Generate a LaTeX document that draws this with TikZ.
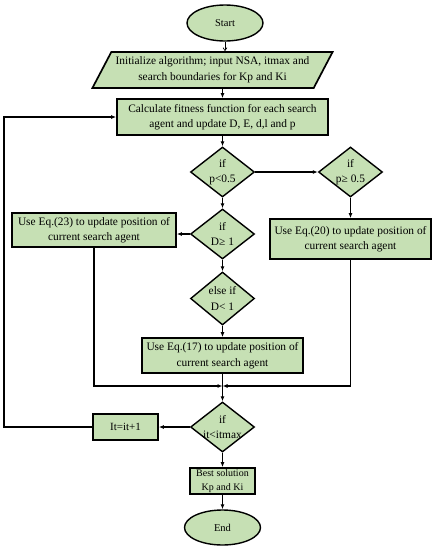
\documentclass[tikz,border=0pt]{standalone}
\usepackage{fontspec}
\setmainfont{Liberation Serif}
\usetikzlibrary{shapes.geometric,arrows.meta}
\definecolor{boxgreen}{RGB}{198,224,180}
\newcommand{\dtxt}[2]{\makebox[0pt]{#1}\\\makebox[0pt]{#2}}
\begin{document}
\begin{tikzpicture}[x=1pt,y=-1pt,
  font=\fontsize{11.4}{15.5}\selectfont,
  base/.style={draw=black, line width=1.7pt, fill=boxgreen, align=center, inner sep=0pt},
  procbox/.style={base, rectangle},
  term/.style={base, ellipse, line width=1.4pt},
  dec/.style={base, diamond, minimum width=64pt, minimum height=50pt, line width=1.4pt},
  io/.style={base, trapezium, trapezium left angle=55, trapezium right angle=125, trapezium stretches=true},
  arr/.style={-{Latex[length=5pt,width=4pt]}, line width=1.1pt},
  thinarr/.style={-{Straight Barb[length=3pt,width=4pt]}, line width=0.6pt}]
\useasboundingbox (0,0) rectangle (438,550);

\node[term, minimum width=76pt, minimum height=36pt, font=\fontsize{10.5}{13}\selectfont] (start) at (225,23) {Start};
\node[io, minimum width=241pt, minimum height=36pt] (init) at (212.5,70)
  {Initialize algorithm; input NSA, itmax and\\search boundaries for Kp and Ki};
\node[procbox, minimum width=211pt, minimum height=36pt] (calc) at (222.5,117)
  {Calculate fitness function for each search\\agent and update D, E, d,l and p};
\node[dec] (d1) at (222.5,172) {\dtxt{if}{p<0.5}};
\node[dec] (d2) at (350.5,172) {\dtxt{if}{p≥ 0.5}};
\node[procbox, minimum width=161pt, minimum height=40pt] (eq20) at (350.5,239)
  {Use Eq.(20) to update position of\\current search agent};
\node[dec] (d3) at (222.5,234) {\dtxt{if}{D≥ 1}};
\node[procbox, minimum width=164pt, minimum height=34pt] (eq23) at (94,230)
  {Use Eq.(23) to update position of\\current search agent};
\node[dec, minimum height=53pt] (d4) at (222.5,298.5) {\dtxt{else if}{D< 1}};
\node[procbox, minimum width=161pt, minimum height=35pt] (eq17) at (222.5,355.5)
  {Use Eq.(17) to update position of\\current search agent};
\coordinate (m) at (222.5,386);
\node[dec] (d5) at (222.5,427) {\dtxt{if}{it<itmax}};
\node[procbox, minimum width=65pt, minimum height=26pt, font=\fontsize{11}{14}\selectfont] (itb) at (125.5,427) {It=it+1};
\coordinate (lp) at (4,427);
\node[procbox, minimum width=65pt, minimum height=26pt, font=\fontsize{10}{13.5}\selectfont] (best) at (222.5,481)
  {Best solution\\Kp and Ki};
\node[term, minimum width=76pt, minimum height=35pt, font=\fontsize{10.5}{13}\selectfont] (end) at (222.5,527.5) {End};

\draw[thinarr] (start) -- (start |- init.north);
\draw[arr] (calc.north |- init.south) -- (calc.north);
\draw[arr] (calc) -- (d1);
\draw[arr] (d1) -- (d2);
\draw[arr] (d2) -- (eq20);
\draw[arr] (d1) -- (d3);
\draw[arr] (d3.west) -- (d3.west -| eq23.east);
\draw[arr] (d3) -- (d4);
\draw[arr] (d4) -- (eq17);
\draw[arr] (eq23.south) |- (m);
\draw[arr] (eq20.south) |- (m);
\draw[arr] (eq17.south) -- (d5.north);
\draw[arr] (d5) -- (itb);
\draw[arr] (itb.west) -- (lp) |- (calc.west);
\draw[arr] (d5) -- (best);
\draw[arr] (best) -- (end);
\end{tikzpicture}
\end{document}
